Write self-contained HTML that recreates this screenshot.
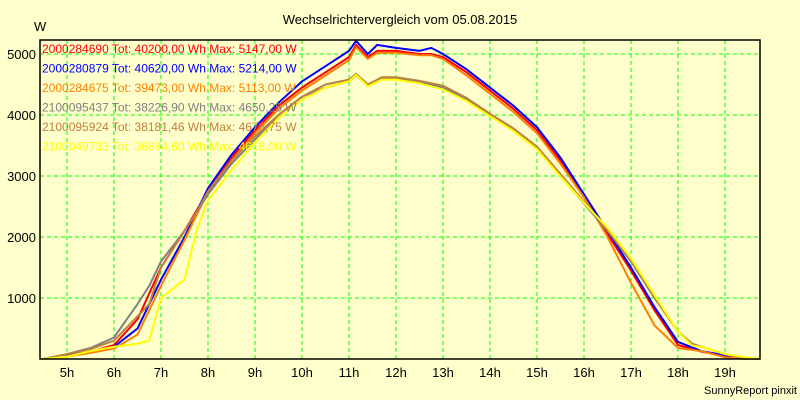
<!DOCTYPE html>
<html><head><meta charset="utf-8"><style>
body{margin:0;background:#ffffcc;}
svg{display:block;font-family:"Liberation Sans",sans-serif;}
</style></head><body>
<svg id="chart" width="800" height="400" xmlns="http://www.w3.org/2000/svg">
<rect width="800" height="400" fill="#ffffcc"/>
<text x="400" y="24" font-size="13" text-anchor="middle" fill="#000">Wechselrichtervergleich vom 05.08.2015</text>
<text x="34" y="31" font-size="13" fill="#000">W</text>
<text x="797" y="394" font-size="11" text-anchor="end" fill="#000">SunnyReport pinxit</text>
<g id="grid"></g><g id="lines"></g><g id="axes"></g><g id="legend"></g>
</svg>
<script>
const xTicks=[5,6,7,8,9,10,11,12,13,14,15,16,17,18,19];
const yTicks=[1000,2000,3000,4000,5000];
const seriesNames=["2000284690 Tot: 40200,00 Wh Max: 5147,00 W","2000280879 Tot: 40620,00 Wh Max: 5214,00 W","2000284675 Tot: 39473,00 Wh Max: 5113,00 W","2100095437 Tot: 38226,90 Wh Max: 4650,25 W","2100095924 Tot: 38181,46 Wh Max: 4675,75 W","2100049733 Tot: 36844,60 Wh Max: 4658,00 W"];
const seriesColors=["#ff0000","#0000ff","#ff8000","#808080","#c08040","#ffff00"];
const timesHigh=[4.5,5,5.5,6,6.5,7,7.5,8,8.5,9,9.5,10,10.5,11,11.15,11.4,11.6,12,12.5,12.75,13,13.5,14,14.5,15,15.5,16,16.5,17,17.5,18,18.5,19,19.5];
const blueVals=[0,60,120,200,500,1300,2000,2800,3350,3800,4200,4550,4800,5050,5214,5000,5150,5100,5050,5100,5000,4750,4450,4150,3800,3300,2700,2100,1500,850,280,130,60,0];
const redVals=[0,60,120,230,650,1500,2100,2750,3300,3750,4150,4450,4700,4950,5147,4950,5050,5050,5000,5000,4950,4700,4400,4100,3750,3250,2650,2050,1450,800,230,120,50,0];
const orangeVals=[0,40,100,170,400,1200,1950,2750,3250,3700,4100,4400,4650,4900,5113,4920,5020,5020,4980,4980,4920,4650,4350,4050,3700,3200,2650,2000,1250,550,180,130,30,0];
const timesLow=[4.5,5,5.5,6,6.5,6.75,7,7.5,7.75,8,8.5,9,9.5,10,10.5,11,11.15,11.4,11.7,12,12.5,13,13.5,14,14.5,15,15.5,16,16.5,17,17.5,18,18.3,18.5,19,19.5,19.75];
const grayVals=[0,80,180,350,900,1200,1600,2100,2400,2700,3200,3600,4000,4300,4450,4550,4650,4480,4600,4600,4550,4450,4250,4000,3750,3450,3000,2550,2100,1600,1000,450,250,200,80,10,0];
const brownVals=[0,80,160,300,700,900,1500,2100,2400,2750,3250,3650,4000,4300,4500,4580,4675,4500,4620,4620,4560,4480,4280,4020,3780,3480,3030,2580,2120,1620,1020,450,250,200,80,10,0];
const yellowVals=[0,40,130,200,250,300,1000,1300,2100,2600,3100,3550,3950,4250,4450,4550,4658,4470,4580,4580,4520,4420,4230,3980,3740,3440,2990,2560,2150,1650,1050,450,220,200,80,20,0];
const seriesTimes=[timesHigh,timesHigh,timesHigh,timesLow,timesLow,timesLow];
const seriesVals=[redVals,blueVals,orangeVals,grayVals,brownVals,yellowVals];
const L=40,R=760,T=40,B=359;
const xs=h=>67+(h-5)*47;
const ys=v=>B-v*0.061;
const NS="http://www.w3.org/2000/svg";
function mk(tag,attrs,parent){const e=document.createElementNS(NS,tag);for(const k in attrs)e.setAttribute(k,attrs[k]);parent.appendChild(e);return e;}
const grid=document.getElementById('grid'),lines=document.getElementById('lines'),axes=document.getElementById('axes'),legend=document.getElementById('legend');
xTicks.forEach(h=>{
 const l=mk('line',{x1:xs(h),x2:xs(h),y1:T,y2:B,stroke:'#00ff00','stroke-dasharray':'4,3'},grid);
 
 
 const t=mk('text',{x:xs(h),y:377,'font-size':13,'text-anchor':'middle',fill:'#000'},axes);
 t.textContent=h+'h';
 
 
});
yTicks.forEach(v=>{
 const l=mk('line',{x1:L,x2:R,y1:ys(v),y2:ys(v),stroke:'#00ff00','stroke-dasharray':'4,3'},grid);
 
 
 const t=mk('text',{x:36,y:ys(v)+5,'font-size':13,'text-anchor':'end',fill:'#000'},axes);
 t.textContent=v;
 
 
});
seriesVals.forEach((vals,i)=>{
 const pts=vals.map((v,j)=>xs(seriesTimes[i][j]).toFixed(1)+','+ys(v).toFixed(1)).join(' ');
 const p=mk('polyline',{points:pts,fill:'none',stroke:seriesColors[i],'stroke-width':2},lines);
 
 
});
const frame=mk('path',{d:`M${L},${T} H${R} V${B} H${L} Z`,fill:'none',stroke:'#000','stroke-width':1.5},axes);


seriesNames.forEach((n,i)=>{
 const t=mk('text',{x:42,y:53+i*19.5,'font-size':12,fill:seriesColors[i]},legend);
 t.textContent=n;
 
 
});
</script>
</body></html>
